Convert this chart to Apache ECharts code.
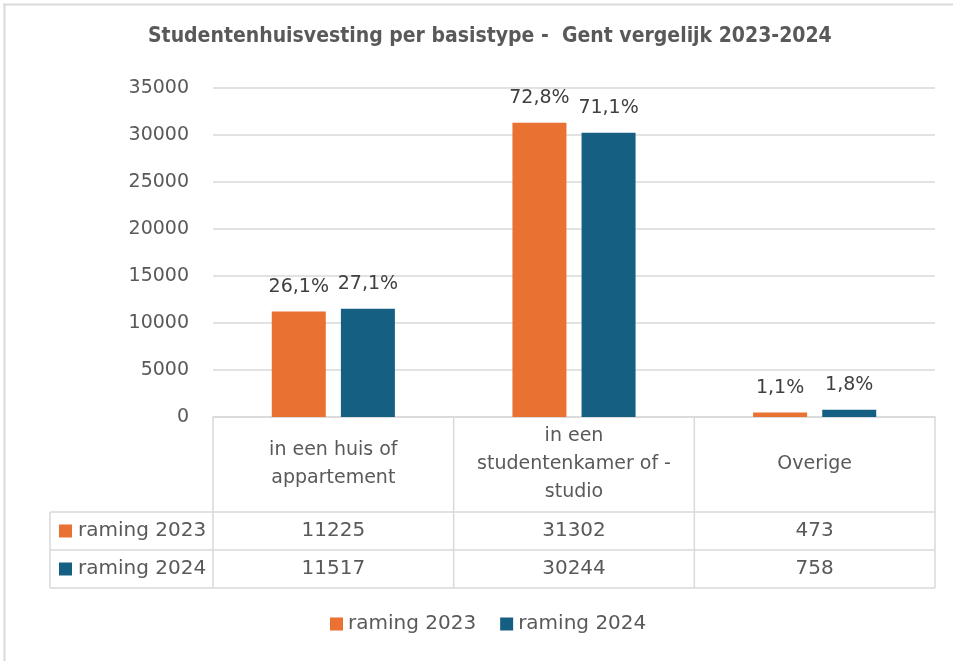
<!DOCTYPE html>
<html>
<head>
<meta charset="utf-8">
<script src="https://cdn.jsdelivr.net/npm/echarts@6/dist/echarts.min.js"></script>
<style>
html,body{margin:0;padding:0;background:#fff;}
#c{width:953px;height:661px;}
</style>
</head>
<body>
<div id="c"></div>
<script>
const title = 'Studentenhuisvesting per basistype -  Gent vergelijk 2023-2024';
const categories = ['in een huis of\nappartement', 'in een\nstudentenkamer of -\nstudio', 'Overige'];
const seriesNames = ['raming 2023', 'raming 2024'];
const values2023 = [11225, 31302, 473];
const values2024 = [11517, 30244, 758];
const pct2023 = ['26,1%', '72,8%', '1,1%'];
const pct2024 = ['27,1%', '71,1%', '1,8%'];
const colors = ['#E97132', '#156082'];

const FONT = '"DejaVu Sans", sans-serif';
const TXT = '#595959';
const LINE = '#d9d9d9';

const chart = echarts.init(document.getElementById('c'), null, {renderer: 'canvas'});

const GRID = {left: 213, right: 18, top: 88, bottom: 244};

function labelFor(arr) {
  return {
    show: true, position: 'top', distance: 15,
    fontFamily: FONT, fontSize: 19, color: '#404040',
    formatter: p => arr[p.dataIndex]
  };
}

chart.setOption({
  animation: false,
  backgroundColor: '#fff',
  title: {
    text: title, left: 143, top: 21,
    textStyle: {fontFamily: '"DejaVu Sans Condensed", sans-serif', fontWeight: 'bold', fontSize: 21, color: TXT}
  },
  legend: {
    bottom: 22, left: 325, icon: 'rect', itemWidth: 13, itemHeight: 13, itemGap: 24,
    textStyle: {fontFamily: FONT, fontSize: 20, color: TXT},
    data: seriesNames
  },
  grid: GRID,
  xAxis: {
    type: 'category', data: categories,
    axisLine: {show: true, lineStyle: {color: LINE, width: 1.5}},
    axisTick: {show: false}, axisLabel: {show: false}, splitLine: {show: false}
  },
  yAxis: {
    type: 'value', min: 0, max: 35000, interval: 5000,
    axisLine: {show: false}, axisTick: {show: false},
    axisLabel: {fontFamily: FONT, fontSize: 19, color: TXT, margin: 24, formatter: v => String(v)},
    splitLine: {lineStyle: {color: LINE, width: 1.5}}
  },
  series: [
    {name: seriesNames[0], type: 'bar', data: values2023, barWidth: 54, barGap: '28%',
     itemStyle: {color: colors[0]}, label: labelFor(pct2023)},
    {name: seriesNames[1], type: 'bar', data: values2024, barWidth: 54,
     itemStyle: {color: colors[1]}, label: labelFor(pct2024)}
  ]
});

// Data table underneath the plot, aligned to the category axis
function buildTable() {
  const y0 = chart.convertToPixel({yAxisIndex: 0}, 0);
  const x0 = GRID.left;
  const x1 = 953 - GRID.right;
  const n = categories.length;
  const colW = (x1 - x0) / n;
  const headerH = 95, rowH = 38;
  const tableLeft = 50;
  const rows = [values2023, values2024];
  const g = [];
  const ls = {stroke: LINE, lineWidth: 1.5};
  // outer chart border (top & left)
  g.push({type: 'line', shape: {x1: 3, y1: 4.5, x2: 953, y2: 4.5}, style: {stroke: '#d9d9d9', lineWidth: 2}});
  g.push({type: 'line', shape: {x1: 4.5, y1: 4, x2: 4.5, y2: 661}, style: {stroke: '#d9d9d9', lineWidth: 2}});
  const yH = y0 + headerH;
  const yEnd = yH + rowH * rows.length;
  for (let i = 0; i <= n; i++) {
    const x = x0 + colW * i;
    g.push({type: 'line', shape: {x1: x, y1: y0, x2: x, y2: yEnd}, style: ls});
  }
  g.push({type: 'line', shape: {x1: tableLeft, y1: yH, x2: tableLeft, y2: yEnd}, style: ls});
  for (let r = 0; r <= rows.length; r++) {
    const y = yH + rowH * r;
    g.push({type: 'line', shape: {x1: tableLeft, y1: y, x2: x1, y2: y}, style: ls});
  }
  for (let i = 0; i < n; i++) {
    g.push({type: 'text', x: x0 + colW * (i + 0.5), y: y0 + headerH / 2,
      style: {text: categories[i], fontFamily: FONT, fontSize: 19, fill: TXT, align: 'center', verticalAlign: 'middle', lineHeight: 28}});
  }
  rows.forEach((vals, r) => {
    const cy = yH + rowH * (r + 0.5);
    g.push({type: 'rect', shape: {x: tableLeft + 9, y: cy - 6.5, width: 13, height: 13}, style: {fill: colors[r]}});
    g.push({type: 'text', x: tableLeft + 28, y: cy,
      style: {text: seriesNames[r], fontFamily: FONT, fontSize: 20, fill: TXT, align: 'left', verticalAlign: 'middle'}});
    vals.forEach((v, i) => {
      g.push({type: 'text', x: x0 + colW * (i + 0.5), y: cy,
        style: {text: String(v), fontFamily: FONT, fontSize: 20, fill: TXT, align: 'center', verticalAlign: 'middle'}});
    });
  });
  chart.setOption({graphic: {elements: g}});
}
buildTable();
</script>
</body>
</html>
